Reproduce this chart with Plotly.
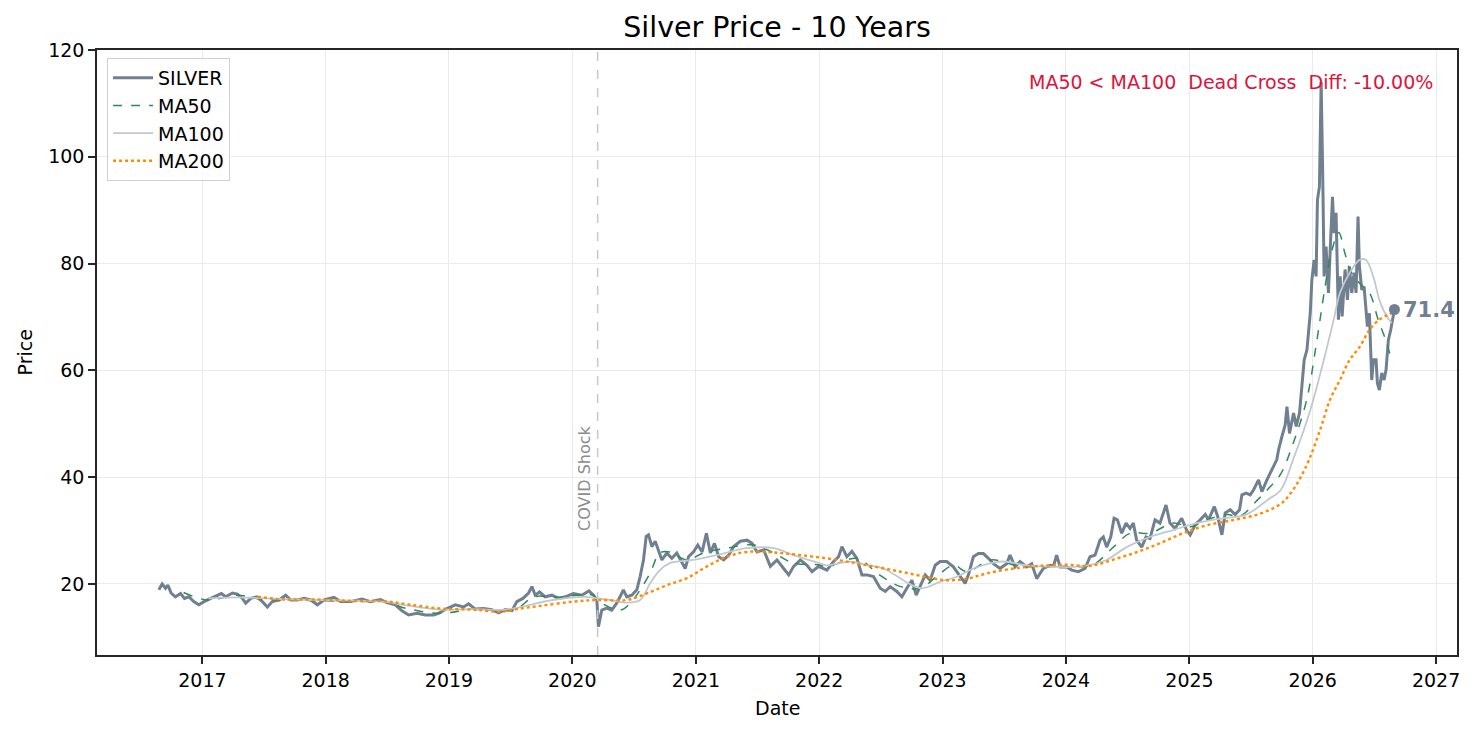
import pandas as pd
import plotly.graph_objects as go

# decimal-year dates + prices
years = [
    2016.649, 2016.676, 2016.703, 2016.722, 2016.749, 2016.784, 2016.825, 2016.857, 2016.892, 2016.932,
    2016.973, 2017.013, 2017.068, 2017.122, 2017.154, 2017.189, 2017.243, 2017.284, 2017.324, 2017.351,
    2017.392, 2017.440, 2017.486, 2017.527, 2017.567, 2017.621, 2017.675, 2017.716, 2017.770, 2017.824,
    2017.878, 2017.932, 2017.986, 2018.067, 2018.121, 2018.199, 2018.294, 2018.361, 2018.442, 2018.496,
    2018.564, 2018.618, 2018.672, 2018.740, 2018.807, 2018.875, 2018.915, 2018.983, 2019.051, 2019.118,
    2019.159, 2019.213, 2019.280, 2019.348, 2019.402, 2019.456, 2019.510, 2019.550, 2019.599, 2019.645,
    2019.672, 2019.699, 2019.734, 2019.780, 2019.834, 2019.888, 2019.942, 2020.009, 2020.077, 2020.135,
    2020.172, 2020.199, 2020.212, 2020.239, 2020.279, 2020.320, 2020.360, 2020.387, 2020.414, 2020.442,
    2020.482, 2020.523, 2020.550, 2020.577, 2020.599, 2020.618, 2020.645, 2020.672, 2020.699, 2020.726,
    2020.766, 2020.807, 2020.847, 2020.888, 2020.915, 2020.942, 2020.982, 2021.015, 2021.050, 2021.085,
    2021.117, 2021.150, 2021.185, 2021.225, 2021.266, 2021.306, 2021.360, 2021.414, 2021.455, 2021.495,
    2021.549, 2021.603, 2021.657, 2021.711, 2021.752, 2021.792, 2021.846, 2021.900, 2021.941, 2021.995,
    2022.062, 2022.116, 2022.157, 2022.184, 2022.224, 2022.265, 2022.305, 2022.346, 2022.386, 2022.440,
    2022.494, 2022.535, 2022.575, 2022.629, 2022.670, 2022.710, 2022.751, 2022.786, 2022.818, 2022.859,
    2022.899, 2022.940, 2022.980, 2023.034, 2023.088, 2023.142, 2023.183, 2023.210, 2023.250, 2023.291,
    2023.331, 2023.372, 2023.412, 2023.466, 2023.520, 2023.547, 2023.588, 2023.628, 2023.682, 2023.723,
    2023.763, 2023.817, 2023.871, 2023.900, 2023.925, 2023.953, 2024.007, 2024.048, 2024.102, 2024.156,
    2024.196, 2024.237, 2024.277, 2024.304, 2024.331, 2024.364, 2024.391, 2024.418, 2024.453, 2024.488,
    2024.520, 2024.547, 2024.574, 2024.615, 2024.650, 2024.682, 2024.723, 2024.763, 2024.812, 2024.844,
    2024.885, 2024.939, 2024.979, 2025.006, 2025.047, 2025.087, 2025.128, 2025.155, 2025.201, 2025.228,
    2025.263, 2025.290, 2025.330, 2025.371, 2025.406, 2025.425, 2025.460, 2025.492, 2025.519, 2025.560,
    2025.587, 2025.628, 2025.654, 2025.682, 2025.708, 2025.722, 2025.735, 2025.749, 2025.776, 2025.790,
    2025.811, 2025.844, 2025.865, 2025.892, 2025.911, 2025.930, 2025.952, 2025.979, 2025.992, 2026.011,
    2026.027, 2026.038, 2026.054, 2026.068, 2026.081, 2026.092, 2026.108, 2026.127, 2026.146, 2026.160,
    2026.173, 2026.189, 2026.208, 2026.222, 2026.238, 2026.262, 2026.281, 2026.297, 2026.316, 2026.335,
    2026.351, 2026.367, 2026.378, 2026.397, 2026.416, 2026.432, 2026.443, 2026.459, 2026.478, 2026.492,
    2026.513, 2026.524, 2026.540, 2026.559, 2026.578, 2026.594, 2026.613, 2026.632, 2026.648, 2026.662,
]
silver = [
    18.9, 20.0, 19.2, 19.8, 18.3, 17.6, 18.2, 17.3, 17.6, 16.7,
    16.1, 16.7, 17.3, 17.9, 18.2, 17.6, 18.3, 18.1, 17.3, 16.4,
    17.3, 17.6, 16.7, 15.7, 16.7, 17.0, 17.9, 17.0, 17.0, 17.3,
    17.0, 16.1, 17.0, 17.5, 16.7, 16.7, 17.2, 16.7, 17.1, 16.5,
    16.1, 15.0, 14.2, 14.5, 14.2, 14.2, 14.5, 15.4, 16.1, 15.7,
    16.3, 15.3, 15.4, 15.2, 14.6, 15.2, 15.0, 16.7, 17.3, 18.3,
    19.5, 17.9, 18.5, 17.6, 17.9, 17.3, 17.6, 18.2, 17.9, 18.7,
    17.9, 17.0, 12.0, 15.1, 15.5, 15.1, 16.4, 17.6, 18.9, 17.6,
    17.9, 18.9, 21.4, 24.5, 28.9, 29.2, 27.0, 28.0, 26.4, 24.5,
    25.8, 24.8, 25.8, 23.9, 22.9, 25.1, 26.0, 27.3, 26.0, 29.5,
    25.8, 27.6, 25.1, 24.5, 25.4, 27.0, 28.0, 28.2, 27.6, 26.0,
    26.4, 23.3, 24.5, 22.9, 21.7, 23.3, 24.5, 23.5, 22.3, 23.3,
    22.6, 24.2, 25.1, 27.0, 25.1, 26.1, 24.8, 21.7, 21.7, 21.4,
    19.2, 18.6, 19.5, 18.6, 17.6, 19.2, 20.7, 17.9, 19.5, 21.7,
    20.7, 23.5, 24.2, 24.2, 23.2, 21.4, 20.1, 21.7, 25.1, 25.7,
    25.7, 24.8, 23.8, 22.9, 23.8, 25.4, 23.2, 24.2, 23.2, 23.8,
    21.0, 22.9, 23.5, 23.4, 25.4, 23.2, 23.2, 22.6, 22.3, 22.9,
    25.1, 25.4, 28.2, 28.8, 26.9, 28.8, 32.3, 32.0, 29.5, 31.4,
    30.4, 31.4, 28.2, 26.9, 28.8, 28.5, 32.0, 31.4, 34.8, 31.4,
    30.4, 32.3, 30.1, 29.2, 31.1, 32.0, 33.0, 32.0, 34.5, 32.7,
    29.2, 33.3, 33.9, 33.0, 33.9, 36.7, 37.0, 36.7, 37.6, 39.5,
    37.3, 39.5, 40.8, 42.2, 43.3, 45.1, 46.4, 47.6, 49.8, 53.2,
    48.2, 52.0, 49.5, 52.0, 57.0, 62.0, 63.8, 70.7, 76.9, 80.7,
    77.6, 91.9, 94.4, 114.0, 96.3, 77.6, 83.2, 74.5, 85.1, 92.5,
    85.7, 89.5, 69.5, 77.6, 70.1, 78.9, 73.2, 79.5, 74.5, 78.3,
    74.5, 88.8, 79.5, 75.1, 75.7, 70.7, 68.2, 70.7, 58.2, 62.0,
    62.0, 57.6, 56.3, 59.5, 58.2, 60.1, 65.7, 67.6, 70.1, 71.4,
]

ma50_years = [
    2016.85, 2017.04, 2017.28, 2017.44, 2017.66, 2017.93, 2018.26, 2018.47, 2018.66, 2018.93,
    2019.20, 2019.42, 2019.55, 2019.69, 2019.87, 2020.17, 2020.20, 2020.39, 2020.47, 2020.55,
    2020.63, 2020.71, 2020.79, 2020.93, 2021.06, 2021.25, 2021.47, 2021.63, 2021.79, 2022.00,
    2022.06, 2022.31, 2022.47, 2022.66, 2022.82, 2022.98, 2023.09, 2023.20, 2023.39, 2023.60,
    2023.92, 2024.06, 2024.22, 2024.39, 2024.52, 2024.68, 2024.87, 2025.01, 2025.14, 2025.30,
    2025.41, 2025.55, 2025.65, 2025.74, 2025.84, 2025.95, 2026.03, 2026.10, 2026.15, 2026.21,
    2026.26, 2026.30, 2026.38, 2026.46, 2026.53, 2026.60, 2026.64,
]
ma50 = [
    18.4, 17.0, 17.9, 17.3, 17.0, 16.9, 16.7, 16.7, 15.4, 14.5,
    15.3, 15.0, 15.4, 17.6, 17.5, 17.9, 17.0, 15.1, 16.4, 18.9,
    22.0, 25.8, 26.0, 24.5, 25.8, 26.7, 27.3, 25.8, 23.9, 23.6,
    23.2, 24.8, 22.0, 19.5, 19.2, 22.0, 23.5, 22.3, 24.5, 23.5,
    23.2, 23.2, 23.6, 27.0, 29.5, 29.5, 31.4, 30.7, 32.0, 33.0,
    32.7, 35.7, 38.1, 40.6, 46.3, 54.5, 65.1, 75.7, 82.0, 85.8,
    82.0, 78.9, 76.3, 74.5, 69.5, 65.1, 61.6,
]

ma100_years = [
    2017.05, 2017.30, 2017.60, 2017.90, 2018.20, 2018.50, 2018.63, 2018.93, 2019.20, 2019.46,
    2019.84, 2020.10, 2020.20, 2020.31, 2020.44, 2020.55, 2020.63, 2020.71, 2020.79, 2020.98,
    2021.17, 2021.41, 2021.63, 2021.79, 2022.00, 2022.06, 2022.25, 2022.39, 2022.52, 2022.82,
    2022.98, 2023.12, 2023.25, 2023.47, 2023.68, 2023.92, 2024.06, 2024.20, 2024.33, 2024.50,
    2024.68, 2024.87, 2025.06, 2025.27, 2025.46, 2025.63, 2025.74, 2025.84, 2025.98, 2026.09,
    2026.17, 2026.22, 2026.30, 2026.38, 2026.43, 2026.49, 2026.54, 2026.60, 2026.64,
]
ma100 = [
    17.3, 17.5, 17.2, 17.0, 16.9, 16.6, 16.1, 15.2, 15.3, 15.2,
    17.0, 17.6, 17.3, 17.0, 16.5, 17.0, 20.1, 22.6, 23.9, 24.5,
    25.4, 26.7, 26.7, 25.4, 23.9, 23.5, 24.2, 23.5, 22.9, 19.2,
    20.4, 21.4, 22.9, 24.2, 23.5, 23.2, 23.2, 23.6, 24.5, 27.0,
    28.8, 30.1, 31.4, 32.3, 33.0, 35.7, 37.6, 43.3, 52.6, 62.0,
    69.5, 74.5, 78.3, 80.7, 80.7, 77.6, 73.2, 70.1, 68.9,
]

ma200_years = [
    2017.45, 2017.66, 2017.90, 2018.26, 2018.47, 2018.66, 2018.93, 2019.20, 2019.42, 2019.55,
    2019.74, 2020.01, 2020.20, 2020.44, 2020.60, 2020.77, 2020.93, 2021.09, 2021.25, 2021.41,
    2021.63, 2021.85, 2022.12, 2022.39, 2022.66, 2022.87, 2023.03, 2023.20, 2023.36, 2023.58,
    2023.79, 2024.01, 2024.20, 2024.39, 2024.58, 2024.76, 2024.95, 2025.14, 2025.36, 2025.55,
    2025.74, 2025.82, 2025.89, 2025.97, 2026.06, 2026.14, 2026.22, 2026.30, 2026.38, 2026.46,
    2026.54, 2026.61, 2026.64,
]
ma200 = [
    17.6, 17.1, 17.1, 16.8, 16.8, 16.2, 15.4, 15.2, 14.8, 15.3,
    15.9, 16.7, 17.0, 17.0, 18.2, 19.8, 21.1, 23.3, 25.1, 26.0,
    25.9, 25.4, 24.6, 23.5, 22.3, 21.3, 20.7, 21.0, 22.0, 22.9,
    23.4, 23.6, 23.4, 24.6, 26.0, 27.6, 29.5, 31.0, 32.0, 33.0,
    35.0, 37.0, 39.5, 43.3, 48.9, 54.5, 58.2, 62.0, 64.4, 67.6,
    69.5, 70.4, 70.7,
]

covid_date = "2020-03-16"
last_price = 71.4
cross_text = "MA50 < MA100  Dead Cross  Diff: -10.00%"


def to_dates(yrs):
    out = []
    for y in yrs:
        base = pd.Timestamp(year=int(y), month=1, day=1)
        out.append(base + pd.Timedelta(days=(y - int(y)) * 365.25))
    return out


FONT = "DejaVu Sans"
dates = to_dates(years)

fig = go.Figure()
fig.add_trace(go.Scatter(x=dates, y=silver, mode="lines", name="SILVER",
                         line=dict(color="#708090", width=3)))
fig.add_trace(go.Scatter(x=to_dates(ma50_years), y=ma50, mode="lines", name="MA50",
                         line=dict(color="#2E8B57", width=1.5, dash="dash", shape="spline")))
fig.add_trace(go.Scatter(x=to_dates(ma100_years), y=ma100, mode="lines", name="MA100",
                         line=dict(color="#C2C8D1", width=1.8, shape="spline")))
fig.add_trace(go.Scatter(x=to_dates(ma200_years), y=ma200, mode="lines", name="MA200",
                         line=dict(color="#FF8C00", width=2.4, dash="dot", shape="spline")))
# last price marker
fig.add_trace(go.Scatter(x=[dates[-1]], y=[last_price], mode="markers", showlegend=False,
                         marker=dict(color="#708090", size=11)))

fig.add_shape(type="line", x0=covid_date, x1=covid_date, xref="x", yref="paper",
              y0=0, y1=1, line=dict(color="#c8c8c8", width=1.5, dash="dash"))
fig.add_annotation(x=covid_date, y=29.5, xref="x", yref="y", text="COVID Shock",
                   textangle=-90, showarrow=False, xanchor="right", yanchor="bottom",
                   xshift=-1, font=dict(family=FONT, size=16, color="#8c8c8c"))
fig.add_annotation(x=dates[-1], y=last_price, xref="x", yref="y", text="<b>%.1f</b>" % last_price,
                   showarrow=False, xanchor="left", xshift=7, yanchor="middle",
                   font=dict(family=FONT, size=21, color="#708090"))
fig.add_annotation(x=0.984, y=0.947, xref="paper", yref="paper", text=cross_text,
                   showarrow=False, xanchor="right", yanchor="middle",
                   font=dict(family=FONT, size=19, color="#DC143C"))
# axis titles
fig.add_annotation(x=0.5, y=-0.088, xref="paper", yref="paper", text="Date", showarrow=False,
                   xanchor="center", yanchor="middle", font=dict(family=FONT, size=19, color="black"))
fig.add_annotation(x=-0.053, y=0.5, xref="paper", yref="paper", text="Price", showarrow=False,
                   textangle=-90, xanchor="center", yanchor="middle",
                   font=dict(family=FONT, size=19, color="black"))

axis_common = dict(showline=True, linecolor="#262626", linewidth=1.5, mirror=True,
                   ticks="outside", ticklen=7, tickwidth=1.5, tickcolor="#262626",
                   showgrid=True, gridcolor="#ebebeb", gridwidth=1.2, zeroline=False,
                   automargin=False,
                   tickfont=dict(family=FONT, size=19, color="black"))

fig.update_xaxes(type="date", range=["2016-02-24", "2027-03-04"],
                 tick0="2017-01-01", dtick="M12", tickformat="%Y", **axis_common)
fig.update_yaxes(range=[6.7, 120], tickvals=[20, 40, 60, 80, 100, 120], **axis_common)

# the page puts the figure 8px in from the corner, margins allow for that
fig.update_layout(
    width=1477, height=735,
    margin=dict(l=89, r=28, t=42, b=88),
    plot_bgcolor="white", paper_bgcolor="white",
    title=dict(text="Silver Price - 10 Years", x=0.5, xanchor="center", y=0.974, yanchor="middle",
               xref="paper", font=dict(family=FONT, size=28.5, color="black")),
    legend=dict(x=0.0074, y=0.987, xanchor="left", yanchor="top", itemwidth=40,
                bgcolor="rgba(255,255,255,0.85)", bordercolor="#d0d0d0", borderwidth=1,
                font=dict(family=FONT, size=19, color="black"), tracegroupgap=0),
    showlegend=True,
)

fig.write_html("out.html")
